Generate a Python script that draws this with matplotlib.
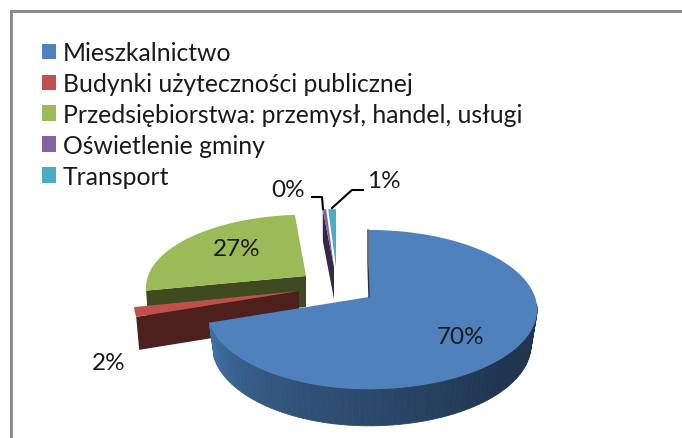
import numpy as np
import matplotlib
matplotlib.use("Agg")
import matplotlib.pyplot as plt
from matplotlib.patches import Patch
from matplotlib.colors import LinearSegmentedColormap

categories = ["Mieszkalnictwo", "Budynki użyteczności publicznej",
              "Przedsiębiorstwa: przemysł, handel, usługi", "Oświetlenie gminy", "Transport"]
values = [69.9, 1.9, 26.9, 0.4, 0.9]
labels = ["70%", "2%", "27%", "0%", "1%"]
top_colors = ["#4f81bd", "#c0504d", "#9bbb59", "#8064a2", "#4bacc6"]
side_colors = ["#1f3550", "#4d1f1d", "#404a21", "#33284a", "#1f4a55"]

# placement of each exploded slice: centre x, y, radius right, radius left, ry, wall y, wall rx, wall ry
geom = [(369, 298, 166, 160, 77.6, 333, 160, 79),
        (299, 292, 163, 163, 78, 325, 160, 78),
        (306, 277, 158, 158, 71, 308, 156, 71),
        (334, 268, 160, 160, 67, 300, 158, 67),
        (336, 268, 160, 160, 67, 300, 158, 67)]
K = 0.158

def proj(th, cx, cy, rxr, rxl, ry):
    th = np.radians(th)
    u, v = np.sin(th), np.cos(th)
    d = 1 + K * v
    return cx + np.where(u > 0, rxr, rxl) * u / d, cy - ry * v / d

fig = plt.figure(figsize=(6.82, 4.39), dpi=100)
ax = fig.add_axes([0, 0, 1, 1])
ax.set_xlim(0, 682)
ax.set_ylim(439, 0)
ax.axis("off")
plt.rcParams["font.family"] = ["Lato", "DejaVu Sans"]

# chart frame: only the top and left edges fall inside the crop
ax.plot([10.5, 10.5, 682], [439, 11.5, 11.5], color="#8a8a8a", lw=2.1, zorder=1, solid_joinstyle="miter")

edges = np.concatenate([[0], np.cumsum(values)]) / sum(values) * 360
grad = LinearSegmentedColormap.from_list("s", ["#1f3550", "#1f3550", "#2a4668", "#33577f", "#4070a8"])
for i in [4, 3, 2, 1, 0]:
    a, b = edges[i], edges[i + 1]
    cx, cy, rxr, rxl, ry, cy2, rx2, ry2 = geom[i]
    z = 5 + (4 - i) * 2 if i != 0 else 20
    ts = np.linspace(a, b, max(4, int(b - a) * 2))
    xs, ys = proj(ts, cx, cy, rxr, rxl, ry)
    if i in (1, 2, 3):
        # cut face toward the viewer
        x0, y0 = proj(a, cx, cy, rxr, rxl, ry)
        x1, y1 = proj(a, cx, cy2, rx2, rx2, ry2)
        ax.fill([x0, cx, cx, x1], [y0, cy, cy2, y1], color=side_colors[i], lw=0, zorder=z)
    if i == 0:
        # curved outer wall with a shaded gradient
        tw = np.append(np.arange(95, b, 2.0), b)
        for t0, t1 in zip(tw[:-1], tw[1:]):
            xa, ya = proj(np.array([t0, t1]), cx, cy, rxr, rxl, ry)
            xb, yb = proj(np.array([t1, t0]), cx, cy2, rx2, rx2 - 5, ry2)
            c = grad((t0 - 95) / (b - 95))
            ax.fill(np.r_[xa, xb], np.r_[ya, yb], color=c, lw=0.6, zorder=z)
        xe, ye = proj(0.0, cx, cy, rxr, rxl, ry)
        ax.plot([xe - 1, xe - 1, cx], [ye, (ye + cy) / 2, cy], color="#1f3550", lw=1.0, zorder=z + 2)
    ax.fill(np.r_[cx, xs], np.r_[cy, ys], color=top_colors[i], lw=0, zorder=z + 1)

# data labels
label_pos = [(461, 338), (109, 364), (237, 250), (288, 191), (384, 182)]
for t, (x, y) in zip(labels, label_pos):
    ax.text(x, y, t, fontsize=17.5, color="#1a1a1a", ha="center", va="center", zorder=30)

# leader lines
ax.plot([312, 322, 323], [198, 198, 210], color="black", lw=1.5, zorder=30)
ax.plot([363, 352, 332], [191, 191, 209], color="black", lw=1.5, zorder=30)

handles = [Patch(facecolor=c, edgecolor="none") for c in top_colors]
leg = ax.legend(handles, categories, loc="upper left", bbox_to_anchor=(42 / 682, 1 - 42 / 439),
                bbox_transform=ax.transAxes, frameon=False, fontsize=17.85, labelspacing=0.32,
                handlelength=0.57, handleheight=0.57, handletextpad=0.28, borderpad=0, borderaxespad=0,
                labelcolor="#1a1a1a")
leg.set_zorder(30)
fig.savefig("out.png", dpi=100)
